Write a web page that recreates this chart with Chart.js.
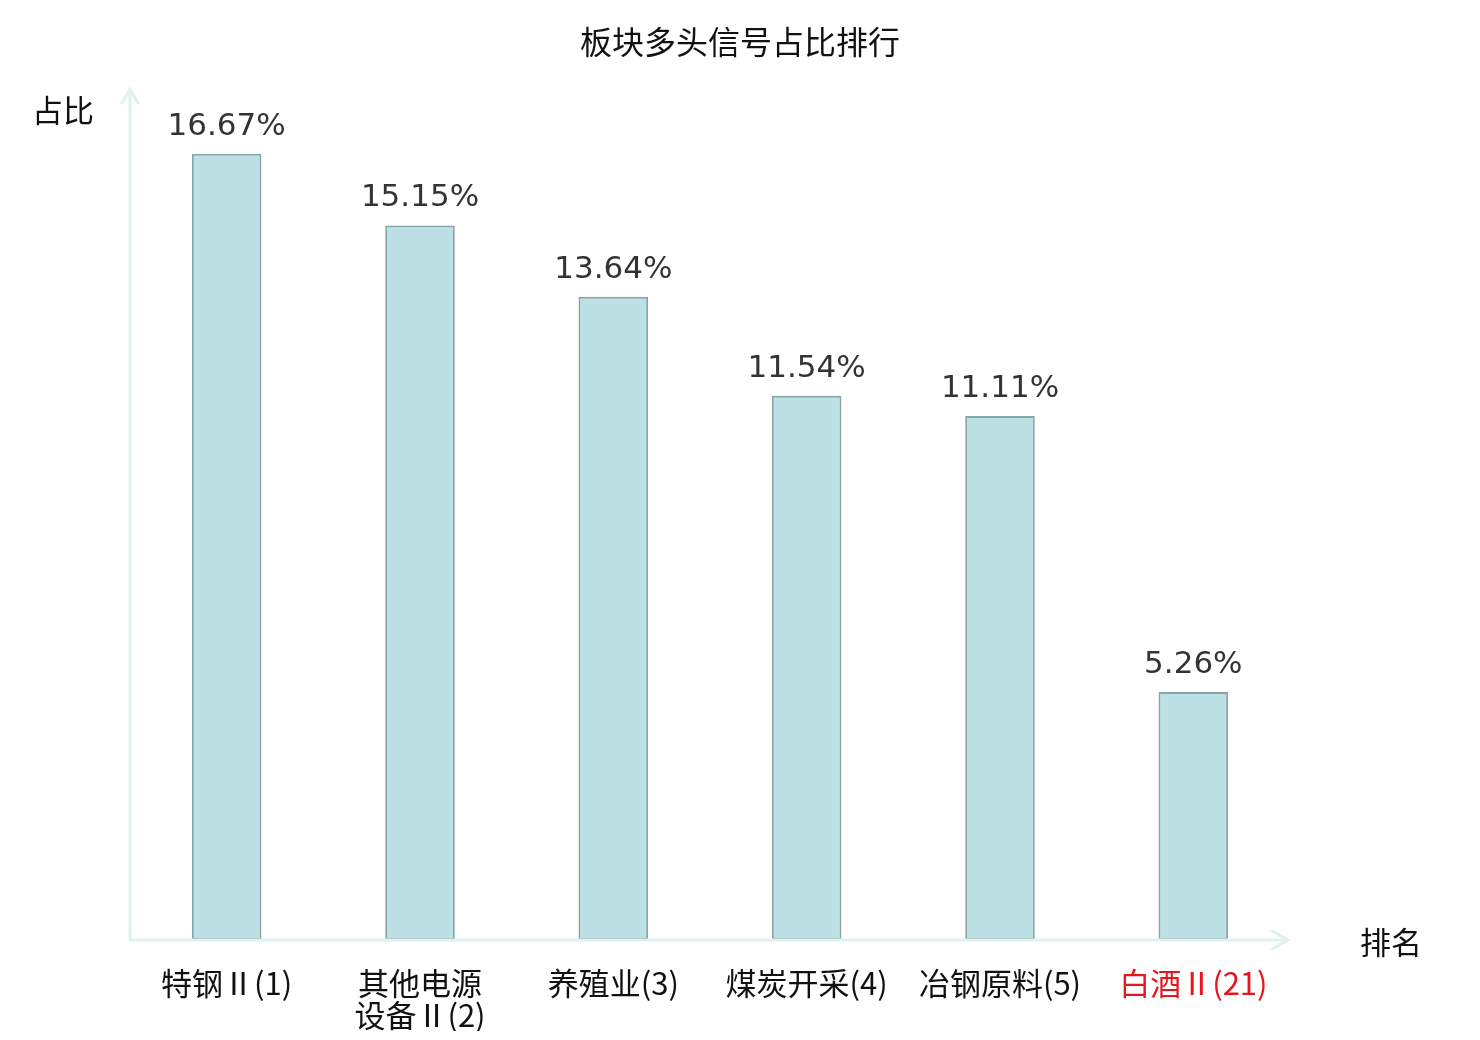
<!DOCTYPE html>
<html>
<head>
<meta charset="utf-8">
<script src="https://cdn.jsdelivr.net/npm/chart.js@4"></script>
<style>
  html, body { margin: 0; padding: 0; background: #fff; }
  #wrap { width: 1480px; height: 1040px; }
</style>
</head>
<body>
<div id="wrap"><canvas id="rankChart"></canvas></div>
<script>
// sector names (rank in brackets), values in percent
const categories = [["特钢Ⅱ(1)"], ["其他电源", "设备Ⅱ(2)"], ["养殖业(3)"], ["煤炭开采(4)"], ["冶钢原料(5)"], ["白酒Ⅱ(21)"]];
const shares = [16.67, 15.15, 13.64, 11.54, 11.11, 5.26];
const labelColors = ["#111111", "#111111", "#111111", "#111111", "#111111", "#e8161c"];
const yMax = 18;

const cjk = "'Noto Sans CJK SC', 'Noto Sans', sans-serif";
const axisColor = "#dff2ef";

// title, arrows for both axes, axis names, and value labels above bars
const decorPlugin = {
  id: "decor",
  afterDatasetsDraw(chart) {
    const { ctx, chartArea: a } = chart;
    ctx.save();
    ctx.strokeStyle = axisColor;
    ctx.lineWidth = 3;
    ctx.lineCap = "round";
    ctx.beginPath();
    // y axis
    ctx.moveTo(a.left, a.bottom);
    ctx.lineTo(a.left, a.top - 2);
    ctx.moveTo(a.left - 8, a.top + 12);
    ctx.lineTo(a.left, a.top - 2);
    ctx.lineTo(a.left + 8, a.top + 12);
    // x axis
    ctx.moveTo(a.left, a.bottom);
    ctx.lineTo(a.right - 2, a.bottom);
    ctx.moveTo(a.right - 18, a.bottom - 9);
    ctx.lineTo(a.right - 2, a.bottom);
    ctx.lineTo(a.right - 18, a.bottom + 9);
    ctx.stroke();

    ctx.textAlign = "center";
    ctx.textBaseline = "middle";
    ctx.fillStyle = "#111";
    ctx.font = "32px " + cjk;
    ctx.fillText("板块多头信号占比排行", chart.width / 2, 42);

    ctx.font = "31px " + cjk;
    ctx.fillText("占比", 63, a.top + 19);
    ctx.fillText("排名", 1391, a.bottom + 2);

    ctx.fillStyle = "#333";
    ctx.font = "31px 'DejaVu Sans', sans-serif";
    chart.getDatasetMeta(0).data.forEach((bar, i) => {
      ctx.fillText(shares[i].toFixed(2) + "%", bar.x, bar.y - 27);
    });
    ctx.restore();
  }
};

new Chart(document.getElementById("rankChart").getContext("2d"), {
  type: "bar",
  data: {
    labels: categories,
    datasets: [{
      data: shares,
      backgroundColor: "#bce0e3",
      borderColor: "#88a6a8",
      borderWidth: 2,
      borderSkipped: false,
      categoryPercentage: 1,
      barPercentage: 0.36,
    }],
  },
  options: {
    responsive: true,
    maintainAspectRatio: false,
    animation: false,
    layout: { padding: { left: 130, right: 190, top: 91, bottom: 9 } },
    scales: {
      x: {
        grid: { display: false, drawTicks: false },
        border: { display: false },
        afterFit: (scale) => { scale.height = 91; },
        ticks: {
          padding: 27,
          maxRotation: 0,
          autoSkip: false,
          color: (c) => labelColors[c.index],
          font: { family: cjk, size: 31, lineHeight: 1.04 },
        },
      },
      y: {
        display: false,
        min: 0,
        max: yMax,
      },
    },
    plugins: {
      legend: { display: false },
      tooltip: { enabled: false },
      title: { display: false },
    },
  },
  plugins: [decorPlugin],
});
</script>
</body>
</html>
